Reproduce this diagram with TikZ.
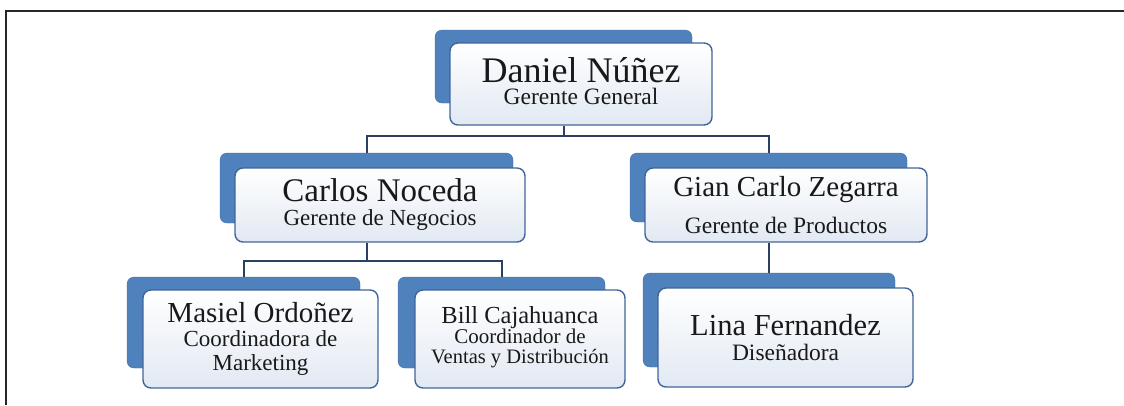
\documentclass[tikz,border=0pt]{standalone}
\usepackage{fontspec}
\setmainfont{Liberation Serif}
\usepackage{xcolor}
\usepackage{tikz}
\definecolor{tileblue}{HTML}{4F81BD}
\definecolor{edgeblue}{HTML}{41659A}
\definecolor{cardbottom}{HTML}{E2E9F3}
\definecolor{linkblue}{HTML}{2A3F62}
\tikzset{
  tile/.style  = { draw=tileblue!85!black, fill=tileblue, rounded corners=7pt, inner sep=0pt },
  card/.style  = { draw=edgeblue, line width=1.4pt, top color=white, bottom color=cardbottom,
                   rounded corners=8pt, align=center, inner sep=0pt, text=black!90 },
  link/.style  = { line width=2pt, linkblue, line join=miter },
  frame/.style = { line width=1.8pt, black!85 }
}

\begin{document}
\begin{tikzpicture}[x=1pt,y=-1pt]
\useasboundingbox (0,0) rectangle (1124,405);
\draw[frame] (6,405) -- (6,11) -- (1124,11);

% back tiles
\node[tile, minimum width=257, minimum height=73] (daniel) at (563.5,66.5) {};
\node[tile, minimum width=293, minimum height=70] (carlos) at (366.5,188) {};
\node[tile, minimum width=277, minimum height=69] (gian)   at (768.5,187.5) {};
\node[tile, minimum width=233, minimum height=91] (masiel) at (243.5,322.5) {};
\node[tile, minimum width=207, minimum height=91] (bill)   at (501.5,322.5) {};
\node[tile, minimum width=252, minimum height=94] (lina)   at (769,320) {};

% front cards
\node[card, minimum width=262, minimum height=82, font=\fontsize{23.5}{22}\selectfont]
  (danielCard) at ([shift={(17.5,17.5)}]daniel.center)
  {{\fontsize{36}{36}\selectfont Daniel Núñez}\\Gerente General\rule[-6pt]{0pt}{0pt}};
\node[card, minimum width=290, minimum height=74, font=\fontsize{23}{24}\selectfont]
  (carlosCard) at ([shift={(13.5,17)}]carlos.center)
  {{\fontsize{33}{33}\selectfont Carlos Noceda}\\Gerente de Negocios};
\node[card, minimum width=282, minimum height=74, font=\fontsize{23.5}{37}\selectfont]
  (gianCard) at ([shift={(17.5,17.5)}]gian.center)
  {{\fontsize{29}{29}\selectfont Gian Carlo Zegarra}\\Gerente de Productos};
\node[card, minimum width=235, minimum height=98, font=\fontsize{23}{24}\selectfont]
  (masielCard) at ([shift={(17,16.5)}]masiel.center)
  {{\fontsize{29}{29}\selectfont Masiel Ordoñez}\\Coordinadora de\\Marketing};
\node[card, minimum width=210, minimum height=98, font=\fontsize{20.5}{20}\selectfont]
  (billCard) at ([shift={(18.5,16.5)}]bill.center)
  {{\fontsize{24.5}{24.5}\selectfont Bill Cajahuanca}\\{\fontsize{21}{20}\selectfont Coordinador de}\\Ventas y Distribución\rule[-9pt]{0pt}{0pt}};
\node[card, minimum width=255, minimum height=99, font=\fontsize{23.5}{25}\selectfont]
  (linaCard) at ([shift={(16.5,17.5)}]lina.center)
  {{\fontsize{30.5}{30.5}\selectfont Lina Fernandez}\\Diseñadora};

% connectors
\draw[link] (danielCard.south -| daniel.south) -- ++(0,10) -| (carlos.north);
\draw[link] (danielCard.south -| daniel.south) -- ++(0,10) -| (gian.north);
\draw[link] (carlosCard.south -| carlos.south) -- ++(0,18) -| (masiel.north);
\draw[link] (carlosCard.south -| carlos.south) -- ++(0,18) -| (bill.north);
\draw[link] (gianCard.south -| lina.north) -- (lina.north);
\end{tikzpicture}
\end{document}
